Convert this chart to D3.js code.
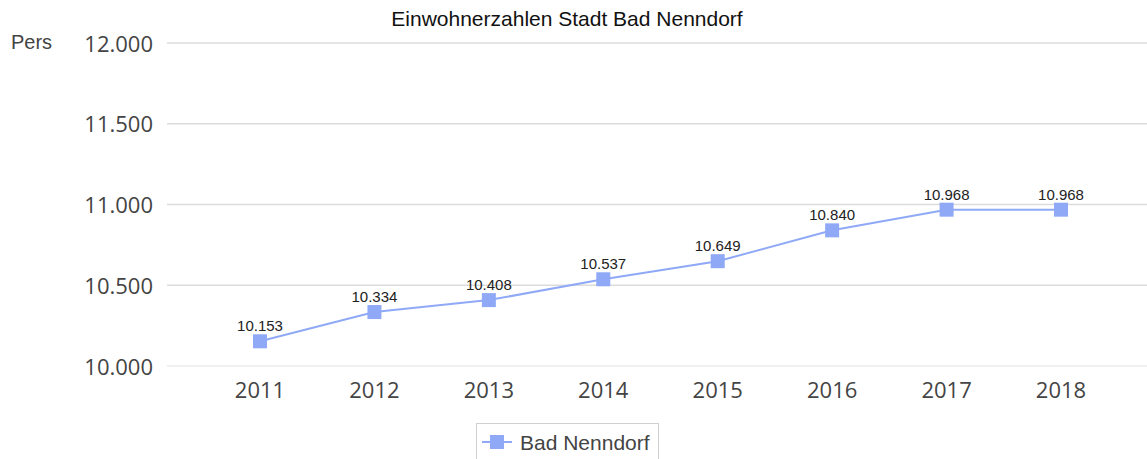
<!DOCTYPE html>
<html><head><meta charset="utf-8">
<script src="https://cdn.jsdelivr.net/npm/d3@7"></script>
<style>body{margin:0;background:#fff}svg{display:block}</style>
</head><body>
<script>
const categories = ["2011","2012","2013","2014","2015","2016","2017","2018"];
const values = [10153,10334,10408,10537,10649,10840,10968,10968];
const yTicks = [10000,10500,11000,11500,12000];
const seriesName = "Bad Nenndorf";
const title = "Einwohnerzahlen Stadt Bad Nenndorf";
const unit = "Pers";

const W = 1147, H = 459;
const color = "#8fa9f7";
const svg = d3.select("body").append("svg").attr("width", W).attr("height", H);
const fmt = v => d3.format(",")(v).replace(/,/g, ".");

const x = d3.scalePoint().domain(categories).range([260, 1061]);
const y = d3.scaleLinear().domain([10000, 12000]).range([366, 43]);

// gridlines
svg.append("g").selectAll("line").data(yTicks).join("line")
  .attr("x1", 167).attr("x2", W)
  .attr("y1", d => y(d)).attr("y2", d => y(d))
  .attr("stroke", d => d === 10000 ? "#ececec" : "#dcdcdc").attr("stroke-width", 1.3);

// y labels
svg.append("g").selectAll("text").data(yTicks).join("text")
  .attr("x", 153).attr("y", d => y(d) + 8.5)
  .attr("text-anchor", "end")
  .attr("font-family", "Open Sans, sans-serif").attr("font-size", 22)
  .attr("fill", "#444").text(fmt);

svg.append("text").attr("x", 11).attr("y", 49)
  .attr("font-family", "Liberation Sans, Arial, sans-serif").attr("font-size", 20)
  .attr("fill", "#444").text(unit);

// x labels
svg.append("g").selectAll("text").data(categories).join("text")
  .attr("x", d => x(d)).attr("y", 398)
  .attr("text-anchor", "middle")
  .attr("font-family", "Open Sans, sans-serif").attr("font-size", 22)
  .attr("fill", "#444").text(d => d);

// title
svg.append("text").attr("x", 567).attr("y", 26).attr("text-anchor", "middle")
  .attr("font-family", "Liberation Sans, Arial, sans-serif").attr("font-size", 21)
  .attr("fill", "#111").text(title);

const pts = categories.map((c, i) => ({c, v: values[i]}));
svg.append("path").datum(pts)
  .attr("fill", "none").attr("stroke", color).attr("stroke-width", 2)
  .attr("d", d3.line().x(d => x(d.c)).y(d => y(d.v)));

const s = 14;
svg.append("g").selectAll("rect").data(pts).join("rect")
  .attr("x", d => x(d.c) - s/2).attr("y", d => y(d.v) - s/2)
  .attr("width", s).attr("height", s).attr("fill", color);

svg.append("g").selectAll("text").data(pts).join("text")
  .attr("x", d => x(d.c)).attr("y", d => y(d.v) - 10)
  .attr("text-anchor", "middle")
  .attr("font-family", "Liberation Sans, Arial, sans-serif").attr("font-size", 15)
  .attr("fill", "#222").text(d => fmt(d.v));

// legend
const lg = svg.append("g");
lg.append("rect").attr("x", 476.5).attr("y", 423.5).attr("width", 182).attr("height", 45)
  .attr("fill", "#fff").attr("stroke", "#d0d0d0");
lg.append("line").attr("x1", 482).attr("x2", 512).attr("y1", 442).attr("y2", 442)
  .attr("stroke", color).attr("stroke-width", 2);
lg.append("rect").attr("x", 490).attr("y", 435).attr("width", 14).attr("height", 14).attr("fill", color);
lg.append("text").attr("x", 520).attr("y", 450)
  .attr("font-family", "Liberation Sans, Arial, sans-serif").attr("font-size", 21)
  .attr("fill", "#444").text(seriesName);
</script>
</body></html>
